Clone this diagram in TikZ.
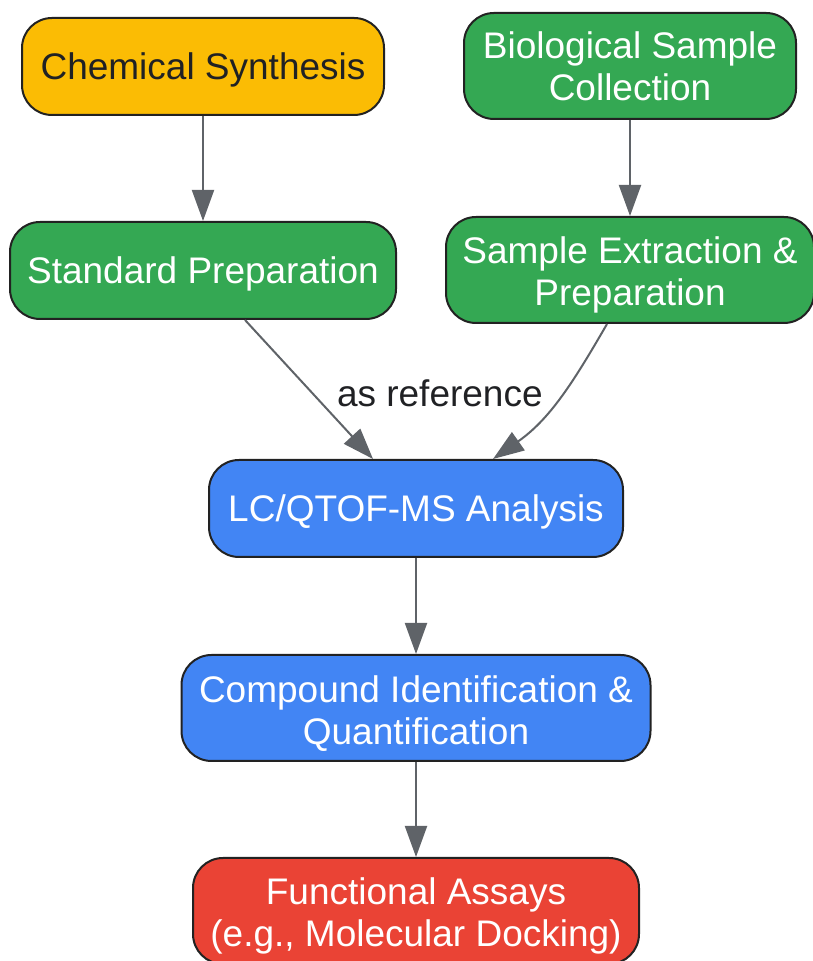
\documentclass[tikz,border=0pt]{standalone}
\usepackage{fontspec}
\setmainfont{Liberation Sans}
\usetikzlibrary{arrows.meta}
\definecolor{synth}{HTML}{FBBC04}
\definecolor{bio}{HTML}{34A853}
\definecolor{lcms}{HTML}{4285F4}
\definecolor{assay}{HTML}{EA4335}
\definecolor{edgegray}{HTML}{5F6368}
\definecolor{ink}{HTML}{202124}
\definecolor{rim}{HTML}{222222}
\newcommand{\padtop}{\rule{0pt}{37pt}}

\begin{document}
\begin{tikzpicture}[x=1pt, y=1pt, node distance=204pt,
  block/.style={draw=rim, line width=2pt, rounded corners=30pt, align=center, text=white, font=\fontsize{37}{42}\selectfont, inner sep=0pt},
  oneline/.style={minimum height=97pt, text height=26.6pt, text depth=0pt},
  twoline/.style={minimum height=106pt},
  note/.style={text=ink, font=\fontsize{37}{42}\selectfont, inner sep=0pt},
  flow/.style={-{Triangle[length=31pt, width=22pt]}, line width=2pt, draw=edgegray}]

  \useasboundingbox (0,0) rectangle (812,961);

  % Left column
  \node[block, oneline, fill=synth, text=ink, minimum width=362pt] (Chem) at (203,894.5) {Chemical Synthesis};
  \node[block, oneline, fill=bio, minimum width=386pt, below of=Chem] (Std) {Standard Preparation};

  % Right column
  \node[block, twoline, fill=bio, minimum width=332pt] (Bio) at (630,895) {Biological Sample\\Collection};
  \node[block, twoline, fill=bio, minimum width=368pt, below of=Bio] (Ext) {\padtop Sample Extraction \&\\Preparation};

  % Main column
  \node[block, oneline, fill=lcms, minimum width=414pt] (LC) at (416,452.5) {LC/QTOF-MS Analysis};
  \node[block, twoline, fill=lcms, minimum width=469pt, below of=LC, node distance=199.5pt] (Quant) {\padtop Compound Identification \&\\Quantification};
  \node[block, twoline, fill=assay, minimum width=446pt, below of=Quant, node distance=203pt] (Assay) {\padtop Functional Assays\\(e.g., Molecular Docking)};

  % Arrows
  \draw[flow] (Chem) -- (Std);
  \draw[flow] (Bio) -- (Ext);
  \draw[flow] ([xshift=42pt]Std.south) -- node[note, anchor=west, xshift=27pt, yshift=-4pt] {as reference} ([xshift=-43pt]LC.north);
  \draw[flow] ([xshift=-23pt]Ext.south) to[out=-120, in=35] ([xshift=77pt]LC.north);
  \draw[flow] (LC) -- (Quant);
  \draw[flow] (Quant) -- (Assay);

\end{tikzpicture}
\end{document}
